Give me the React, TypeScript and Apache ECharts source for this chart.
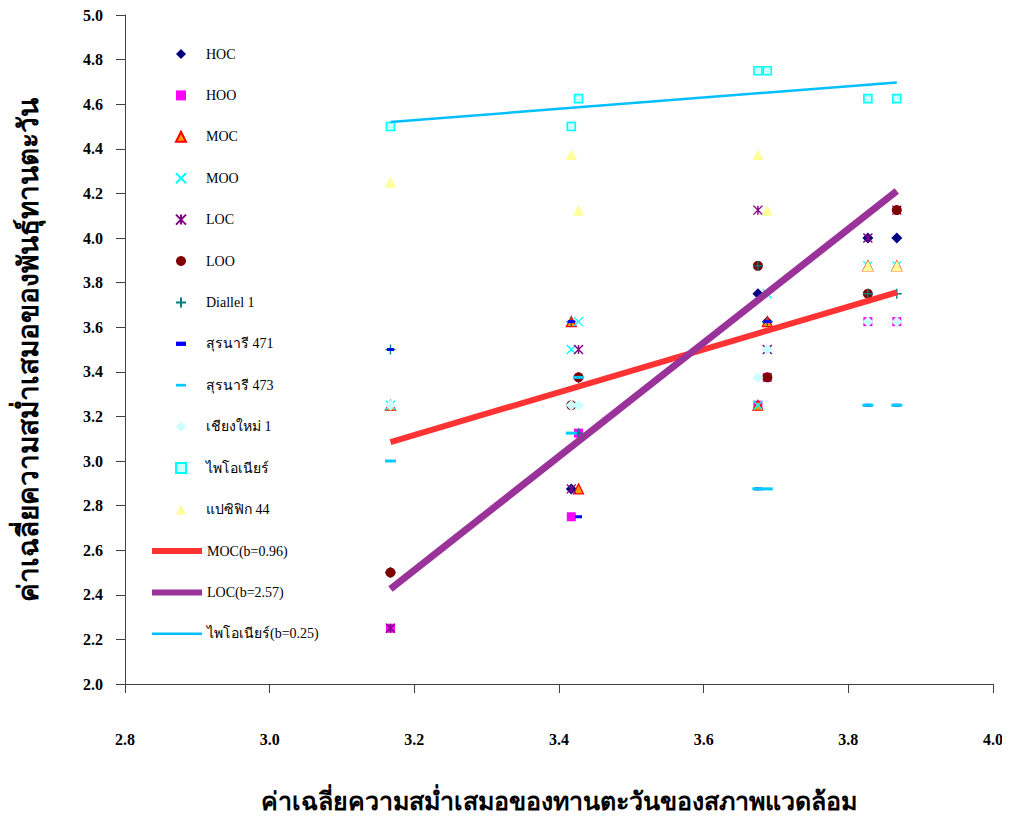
import React, { useEffect, useRef } from "react";
import * as echarts from "echarts";

// Environment means (x) — 7 environments
const envX = [3.167, 3.417, 3.427, 3.675, 3.688, 3.827, 3.867];

// Genotype stability means at each environment (same order as envX)
const HOC = [2.5, 2.875, 3.375, 3.75, 3.625, 4.0, 4.0];
const HOO = [2.25, 2.75, 3.125, 3.25, 3.375, 3.625, 3.625];
const MOC = [3.25, 3.625, 2.875, 3.25, 3.625, 3.875, 3.875];
const MOO = [3.25, 3.5, 3.625, 3.25, 3.75, 3.875, 3.875];
const LOC = [2.25, 2.875, 3.5, 4.125, 3.5, 4.0, 4.125];
const LOO = [2.5, 3.25, 3.375, 3.875, 3.375, 3.75, 4.125];
const DIALLEL1 = [3.5, 3.625, 3.125, 3.875, 3.625, 3.75, 3.75];
const SURANAREE471 = [3.5, 3.625, 2.75, 2.875, 3.625, 3.25, 3.25];
const SURANAREE473 = [3.0, 3.125, 3.375, 2.875, 2.875, 3.25, 3.25];
const CHIANGMAI1 = [3.25, 3.25, 3.25, 3.375, 3.5, 3.625, 3.625];
const PIONEER = [4.5, 4.5, 4.625, 4.75, 4.75, 4.625, 4.625];
const PACIFIC44 = [4.25, 4.375, 4.125, 4.375, 4.125, 3.875, 3.875];

const xTicks = { min: 2.8, max: 4.0, interval: 0.2 };
const yTicks = { min: 2.0, max: 5.0, interval: 0.2 };

const yTitle = "ค่าเฉลี่ยความสม่ำเสมอของพันธุ์ทานตะวัน";
const xTitle = "ค่าเฉลี่ยความสม่ำเสมอของทานตะวันของสภาพแวดล้อม";

const FONT = "'Liberation Serif', 'Times New Roman', serif";

const X_PATH = "path://M0,0L10,10M10,0L0,10";
const AST_PATH = "path://M0,0L10,10M10,0L0,10M5,0L5,10";
const PLUS_PATH = "path://M5,0L5,10M0,5L10,5";
const DASH_S = "path://M0,0h7v3h-7z";
const DASH_L = "path://M0,0h11v3h-11z";

function linreg(xs: number[], ys: number[]) {
  const n = xs.length;
  const mx = xs.reduce((a, b) => a + b, 0) / n;
  const my = ys.reduce((a, b) => a + b, 0) / n;
  let sxy = 0, sxx = 0;
  for (let i = 0; i < n; i++) {
    sxy += (xs[i] - mx) * (ys[i] - my);
    sxx += (xs[i] - mx) * (xs[i] - mx);
  }
  const b = sxy / sxx;
  const a = my - b * mx;
  const x0 = Math.min(...xs);
  const x1 = Math.max(...xs);
  return [
    [x0, a + b * x0],
    [x1, a + b * x1],
  ];
}

const pts = (ys: number[]) => envX.map((x, i) => [x, ys[i]]);

export default function App() {
  const ref = useRef<HTMLDivElement>(null);
  useEffect(() => {
    if (!ref.current) return;
    const chart = echarts.init(ref.current, undefined, { renderer: "svg" });

    const scatter = (
      name: string,
      ys: number[],
      symbol: string,
      size: number | number[],
      color: string,
      borderColor?: string,
      borderWidth = 0
    ) => ({
      name,
      type: "scatter",
      data: pts(ys),
      symbol,
      symbolSize: size,
      itemStyle: {
        color,
        borderColor: borderColor || color,
        borderWidth,
        opacity: 1,
      },
      z: 2,
    });

    const regLine = (name: string, ys: number[], color: string, width: number) => ({
      name,
      type: "line",
      data: linreg(envX, ys),
      symbol: "none",
      showSymbol: false,
      itemStyle: { color },
      lineStyle: { color, width },
      z: 3,
    });

    const series: any[] = [
      scatter("HOC", HOC, "diamond", 11, "#000080"),
      scatter("HOO", HOO, "rect", 9, "#FF00FF"),
      scatter("MOC", MOC, "triangle", 10, "#FF9900", "#FF0000", 1.2),
      scatter("MOO", MOO, X_PATH, 9, "#00FFFF", "#00FFFF", 1.4),
      scatter("LOC", LOC, AST_PATH, 9, "#800080", "#800080", 1.4),
      scatter("LOO", LOO, "circle", 10, "#800000"),
      scatter("Diallel 1", DIALLEL1, PLUS_PATH, 10, "#008080", "#008080", 1.4),
      scatter("สุรนารี 471", SURANAREE471, "rect", [7, 3], "#0000FF"),
      scatter("สุรนารี 473", SURANAREE473, "rect", [11, 3], "#00CCFF"),
      scatter("เชียงใหม่ 1", CHIANGMAI1, "diamond", 11, "#CCFFFF"),
      scatter("ไพโอเนียร์", PIONEER, "rect", 8, "#CCFFFF", "#00FFFF", 1.6),
      scatter("แปซิฟิก 44", PACIFIC44, "triangle", 11, "#FFFF99"),
      regLine("MOC(b=0.96)", MOC, "#FF3333", 6),
      regLine("LOC(b=2.57)", LOC, "#993399", 7),
      regLine("ไพโอเนียร์(b=0.25)", PIONEER, "#00BFFF", 2.5),
    ];

    const markerIcons: Record<string, string> = {
      "สุรนารี 471": DASH_S,
      "สุรนารี 473": DASH_L,
    };
    const markerData = series.slice(0, 12).map((s) =>
      markerIcons[s.name] ? { name: s.name, icon: markerIcons[s.name] } : { name: s.name }
    );
    const lineData = [
      { name: "MOC(b=0.96)", icon: "rect" },
      { name: "LOC(b=2.57)", icon: "rect" },
      { name: "ไพโอเนียร์(b=0.25)", icon: "path://M0,0h50v2.5h-50z" },
    ];

    chart.setOption({
      animation: false,
      backgroundColor: "#ffffff",
      grid: { left: 125, right: 17, top: 15, bottom: 126, containLabel: false },
      legend: [
        {
          data: markerData,
          orient: "vertical",
          left: 170,
          top: 42,
          itemWidth: 10,
          itemHeight: 10,
          itemGap: 27.4,
          selectedMode: false,
          textStyle: {
            fontFamily: FONT,
            fontSize: 14,
            color: "#000",
            lineHeight: 14,
            padding: [0, 0, 0, 15],
          },
        },
        {
          data: lineData,
          orient: "vertical",
          left: 147,
          top: 539,
          itemWidth: 50,
          itemHeight: 6,
          itemGap: 27.4,
          selectedMode: false,
          textStyle: {
            fontFamily: FONT,
            fontSize: 14,
            color: "#000",
            lineHeight: 14,
          },
        },
      ],
      xAxis: {
        type: "value",
        min: xTicks.min,
        max: xTicks.max,
        interval: xTicks.interval,
        name: xTitle,
        nameLocation: "middle",
        nameGap: 105,
        nameTextStyle: {
          fontFamily: FONT,
          fontSize: 25,
          fontWeight: "bold",
          color: "#000",
        },
        axisLine: { show: true, onZero: false, lineStyle: { color: "#404040", width: 1 } },
        axisTick: { show: true, length: 9, lineStyle: { color: "#404040" } },
        axisLabel: {
          margin: 47,
          fontFamily: FONT,
          fontSize: 16,
          fontWeight: "bold",
          color: "#000",
          formatter: (v: number) => v.toFixed(1),
        },
        splitLine: { show: false },
      },
      yAxis: {
        type: "value",
        min: yTicks.min,
        max: yTicks.max,
        interval: yTicks.interval,
        name: yTitle,
        nameLocation: "middle",
        nameGap: 83,
        nameTextStyle: {
          fontFamily: FONT,
          fontSize: 28,
          fontWeight: "bold",
          color: "#000",
        },
        axisLine: { show: true, onZero: false, lineStyle: { color: "#404040", width: 1 } },
        axisTick: { show: true, length: 9, lineStyle: { color: "#404040" } },
        axisLabel: {
          margin: 22,
          fontFamily: FONT,
          fontSize: 16,
          fontWeight: "bold",
          color: "#000",
          formatter: (v: number) => v.toFixed(1),
        },
        splitLine: { show: false },
      },
      series,
    });

    return () => chart.dispose();
  }, []);

  return <div ref={ref} style={{ width: 1010, height: 819, margin: -8 }} />;
}
